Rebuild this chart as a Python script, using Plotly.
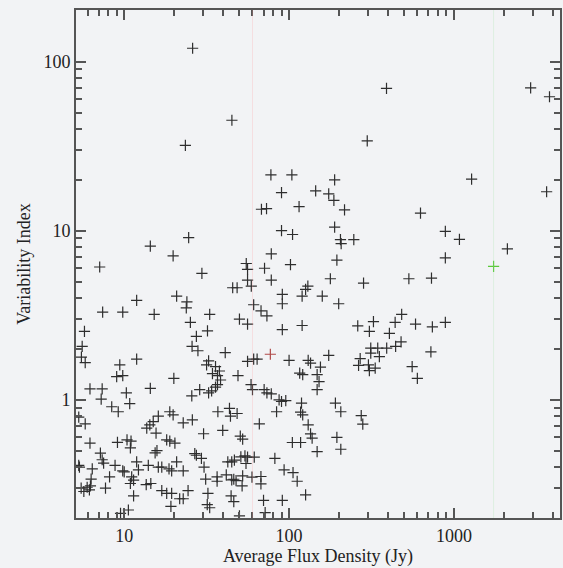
import plotly.graph_objects as go
import math

# Average flux density (Jy) and variability index
pts = [
    (26,120),(45,45),(23.5,32),(77.6,21.4),(104,21.4),(90,16.8),(145,17.2),(68,13.4),(73,13.5),(115,13.9),
    (90,10.0),(105,9.5),(24.6,9.1),(14.4,8.1),
    (390,69.5),(298,34),(2920,70),(3800,62),(189,20),(174,16.5),(187,15.1),(217,13.3),(1280,20.2),(3650,17),
    (627,12.7),(189,10.5),(205,8.85),(247,8.85),(207,8.4),(887,9.9),(1080,8.9),
    (2110,7.8),(887,6.9),(102,6.3),(195,6.7),(130,4.7),(126,4.5),(120,4.1),(178,5.2),(283,4.9),(533,5.2),(731,5.25),
    (159,4.1),(200,3.7),(482,3.2),(325,2.9),(440,2.87),(261,2.74),(585,2.8),(740,2.7),(887,2.87),(307,2.54),
    (406,2.47),(478,2.2),(443,2.07),(391,2.02),(345,2.02),(313,2.02),(313,1.89),(353,1.80),(174,1.83),(725,1.92),
    (270,1.75),(264,1.60),(303,1.61),(307,1.49),(333,1.54),(558,1.57),(600,1.34),(155,1.56),
    (191,0.956),(206,0.85),(274,0.807),(280,0.718),(195,0.60),(206,0.51),
    (91,4.2),(91,3.7),(91,2.6),(120,2.75),(100,1.71),(130.6,1.71),(135,1.65),(116,1.44),(121,1.41),(148,1.41),
    (152,1.28),(148,1.15),
    (87,1.0),(95.5,0.99),(90,0.977),(119,0.956),(117.5,0.846),(121,0.815),(130.6,0.711),(135,0.629),(138,0.593),
    (104.7,0.559),(117.5,0.559),(148,0.494),
    (93.3,0.385),(105.7,0.371),(112,0.33),(126,0.274),(91,0.254),
    (78,7.3),(55,6.4),(56,5.9),(71,6.0),(29.6,5.6),(56,5.1),(59,4.7),(78,5.1),(45.5,4.6),(48.4,4.6),(61,3.65),
    (67.6,3.36),(73.4,3.14),(33,3.2),(50,3.0),(56,2.8),(32,2.56),(27.4,2.37),(28,1.95),(41,1.9),(56,1.69),
    (61,1.74),(64,1.74),(49,1.39),
    (32.5,1.70),(31.6,1.61),(35.8,1.57),(37.8,1.48),(34.3,1.43),(36.8,1.39),(38.4,1.31),(36.8,1.23),(35.8,1.19),
    (33.9,1.13),(32.5,1.10),(28.7,1.15),(25.7,1.056),
    (19.8,7.1),(7.1,6.1),(11.9,3.87),(20.8,4.1),(24,3.8),(23.8,3.5),(7.4,3.3),(9.8,3.3),(15.2,3.2),(25.2,2.87),
    (25.8,2.07),(5.74,2.54),(5.56,2.07),(5.5,1.79),(5.8,1.66),(9.4,1.61),(11.9,1.74),(9.0,1.37),(9.8,1.39),(20,1.34),
    (6.2,1.16),(7.35,1.16),(7.25,1.01),(10.3,1.1),(10.8,0.95),(14.4,1.17),(8.4,0.91),(9.2,0.85),(5.3,0.79),(5.8,0.72),
    (16.1,0.80),(15.0,0.744),(14.3,0.711),(13.7,0.68),(18.9,0.85),(19.8,0.815),(22.8,0.73),(25.9,0.76),(15.6,0.635),
    (18.1,0.58),(18.9,0.57),(20.3,0.555),(26.8,0.48),(6.2,0.555),(9.1,0.56),(10.4,0.58),(11,0.57),(10.9,0.52),
    (15.8,0.5),(15.4,0.485),(7.17,0.484),(7.35,0.442),(7.5,0.422),(5.3,0.41),(5.35,0.40),(6.4,0.39),(8.8,0.41),
    (9.8,0.38),(10,0.375),(11.9,0.43),(12.2,0.385),(14,0.41),(16.1,0.40),(16.9,0.40),(18.7,0.39),(19.4,0.38),
    (20.8,0.43),(22.8,0.38),(6.3,0.34),(8.15,0.35),(11.1,0.35),(11.4,0.335),(10.9,0.32),(13.6,0.315),(14.5,0.32),
    (5.48,0.30),(5.69,0.287),(5.96,0.304),(6.15,0.293),(6.24,0.31),(7.7,0.30),(11.4,0.27),(16.9,0.29),(18.1,0.28),
    (19.4,0.28),(24.4,0.29),(21.7,0.26),(22.8,0.26),(19.2,0.234),(9.5,0.213),(10.6,0.223),
    (58.8,1.23),(60,1.15),(70.6,1.15),(73.4,1.10),(78,1.085),(84,0.85),(37,0.85),(43.5,0.89),(44.1,0.80),
    (48.4,0.83),(66,0.72),(30.3,0.63),(39.6,0.66),(50.6,0.61),(52.3,0.585),(27.4,0.47),(29.4,0.45),(30.5,0.40),
    (42.5,0.43),(44.9,0.43),(46.6,0.44),(51,0.46),(54,0.466),(56,0.458),(61.5,0.458),(54.8,0.42),(82,0.45),
    (31.2,0.34),(36.6,0.35),(36.6,0.33),(41.6,0.36),(44.9,0.336),(46.2,0.339),(47.7,0.333),(52.3,0.355),
    (51.9,0.31),(59.6,0.349),(67.5,0.352),(67.5,0.318),(32.2,0.28),(31.9,0.24),(33,0.23),(44.5,0.27),
    (46.2,0.25),(70,0.254),(71.6,0.215),(50,0.206),
]
flux = [p[0] for p in pts]
var_index = [p[1] for p in pts]

red_flux = [77]
red_var = [1.86]
green_flux = [1740]
green_var = [6.15]

red_line_flux = 60
green_line_flux = 1740

x_range = [5.1, 4400]
y_range = [0.2, 202]
x_ticks = [10, 100, 1000]
y_ticks = [1, 10, 100]

bg = "#f2f3f5"
ink = "#2e2e2e"
axcol = "#555555"
font_family = "Liberation Serif, Times New Roman, serif"

fig = go.Figure()
mk = dict(symbol="cross-thin", size=8, line=dict(width=1.2, color=ink))
fig.add_trace(go.Scatter(x=flux, y=var_index, mode="markers", marker=mk, showlegend=False))
fig.add_trace(go.Scatter(x=red_flux, y=red_var, mode="markers",
                         marker=dict(symbol="cross-thin", size=8, line=dict(width=1.2, color="#b04a48")),
                         showlegend=False))
fig.add_trace(go.Scatter(x=green_flux, y=green_var, mode="markers",
                         marker=dict(symbol="cross-thin", size=8, line=dict(width=1.2, color="#5cc83c")),
                         showlegend=False))

fig.add_vline(x=red_line_flux, line=dict(color="rgba(255,150,150,0.22)", width=1))
fig.add_vline(x=green_line_flux, line=dict(color="rgba(150,225,150,0.22)", width=1))

fig.update_xaxes(type="log", range=[math.log10(x_range[0]), math.log10(x_range[1])],
                 showline=True, linecolor=axcol, linewidth=2, mirror="ticks",
                 ticks="inside", ticklen=10, tickwidth=2, tickcolor=axcol,
                 tickvals=x_ticks, gridcolor=bg, zeroline=False,
                 tickfont=dict(family=font_family, size=18, color="#222"),
                 minor=dict(ticks="inside", ticklen=6, tickwidth=1.5, tickcolor=axcol, dtick="D1", gridcolor=bg),
                 title=dict(text="Average Flux Density (Jy)", font=dict(family=font_family, size=18, color="#222"),
                            standoff=2))
fig.update_yaxes(type="log", range=[math.log10(y_range[0]), math.log10(y_range[1])],
                 showline=True, linecolor=axcol, linewidth=2, mirror="ticks",
                 ticks="inside", ticklen=10, tickwidth=2, tickcolor=axcol,
                 tickvals=y_ticks, gridcolor=bg, zeroline=False,
                 tickfont=dict(family=font_family, size=18, color="#222"),
                 minor=dict(ticks="inside", ticklen=6, tickwidth=1.5, tickcolor=axcol, dtick="D1", gridcolor=bg),
                 title=dict(text="Variability Index", font=dict(family=font_family, size=18, color="#222"),
                            standoff=8))

fig.update_layout(
    width=563, height=568,
    margin=dict(l=76, r=1, t=10, b=50),
    paper_bgcolor=bg, plot_bgcolor=bg,
)

fig.write_html("out.html")
